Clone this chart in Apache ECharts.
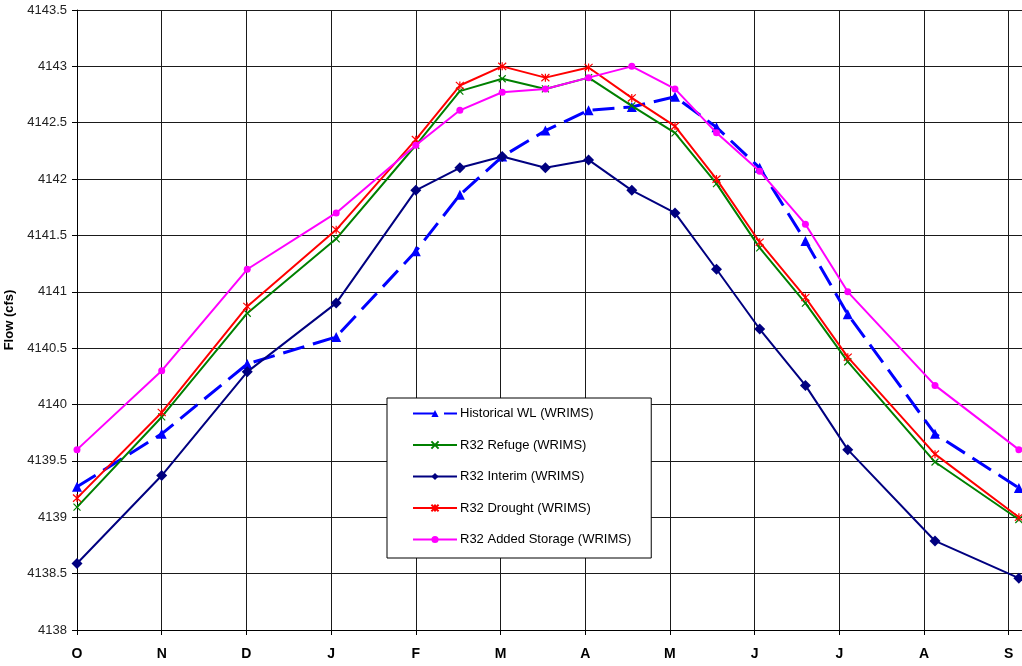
<!DOCTYPE html>
<html>
<head>
<meta charset="utf-8">
<script src="https://cdn.jsdelivr.net/npm/echarts@6/dist/echarts.min.js"></script>
<style>
html,body{margin:0;padding:0;background:#fff;}
#chart{width:1022px;height:666px;}
</style>
</head>
<body>
<div id="chart"></div>
<script>
// Month tick labels (water year, Oct..Sep)
var monthLabels = ['O','N','D','J','F','M','A','M','J','J','A','S'];
// x positions of observations in month units from October
var xPos = [0, 1, 2.01, 3.06, 4.0, 4.52, 5.02, 5.53, 6.04, 6.55, 7.06, 7.55, 8.06, 8.6, 9.1, 10.13, 11.12];
var historical = [4139.27, 4139.74, 4140.36, 4140.6, 4141.36, 4141.86, 4142.2, 4142.43, 4142.61, 4142.64, 4142.73, 4142.46, 4142.1, 4141.45, 4140.8, 4139.74, 4139.26];
var refuge     = [4139.09, 4139.89, 4140.81, 4141.47, 4142.3, 4142.78, 4142.89, 4142.8, 4142.9, 4142.65, 4142.41, 4141.96, 4141.39, 4140.9, 4140.38, 4139.49, 4138.98];
var interim    = [4138.59, 4139.37, 4140.29, 4140.9, 4141.9, 4142.1, 4142.2, 4142.1, 4142.17, 4141.9, 4141.7, 4141.2, 4140.67, 4140.17, 4139.6, 4138.79, 4138.46];
var drought    = [4139.17, 4139.93, 4140.87, 4141.55, 4142.35, 4142.83, 4143.0, 4142.9, 4142.99, 4142.72, 4142.47, 4142.0, 4141.44, 4140.95, 4140.42, 4139.56, 4139.0];
var added      = [4139.6, 4140.3, 4141.2, 4141.7, 4142.3, 4142.61, 4142.77, 4142.8, 4142.9, 4143.0, 4142.8, 4142.41, 4142.07, 4141.6, 4141.0, 4140.17, 4139.6];

function pairs(ys){ return ys.map(function(v,i){ return [xPos[i], v]; }); }

var crossPath = 'path://M0 0 L10 10 M10 0 L0 10';
var starPath = 'path://M5 0 L5 10 M0.5 0.5 L9.5 9.5 M9.5 0.5 L0.5 9.5';

var chart = echarts.init(document.getElementById('chart'), null, {renderer:'canvas'});
chart.setOption({
  animation:false,
  backgroundColor:'#ffffff',
  textStyle:{fontFamily:'Liberation Sans, Arial, sans-serif'},
  grid:{left:77, top:10, width:960, height:620, containLabel:false, outerBoundsMode:'none'},
  xAxis:{
    type:'value', min:0, max:11.334, interval:1,
    axisLine:{show:true, onZero:false, lineStyle:{color:'#000', width:1}},
    axisTick:{show:true, length:5, lineStyle:{color:'#000'}},
    splitLine:{show:true, lineStyle:{color:'#1a1a1a', width:1}},
    axisLabel:{
      margin:17, color:'#000', fontSize:14, fontWeight:'bold',
      fontFamily:'Liberation Sans, Arial, sans-serif',
      showMaxLabel:false,
      formatter:function(v){ var r=Math.round(v); return Math.abs(v-r)<1e-6 && monthLabels[r]!==undefined ? monthLabels[r] : ''; }
    }
  },
  yAxis:{
    type:'value', min:4138, max:4143.5, interval:0.5,
    name:'Flow (cfs)', nameLocation:'middle', nameGap:61, nameRotate:90,
    nameTextStyle:{fontSize:13, fontWeight:'bold', color:'#000', fontFamily:'Liberation Sans, Arial, sans-serif'},
    axisLine:{show:true, lineStyle:{color:'#000', width:1}},
    axisTick:{show:true, length:5, lineStyle:{color:'#000'}},
    splitLine:{show:true, lineStyle:{color:'#1a1a1a', width:1}},
    axisLabel:{margin:10, color:'#222', fontSize:13, fontFamily:'Liberation Sans, Arial, sans-serif',
      formatter:function(v){ return String(Math.round(v*10)/10); }}
  },
  legend:{
    orient:'vertical', left:387, top:398,
    backgroundColor:'#fff', borderColor:'#000', borderWidth:1,
    padding:[9,20,12,25], itemGap:18.5, itemWidth:44, itemHeight:9,
    textStyle:{fontSize:13, color:'#000', fontFamily:'Liberation Sans, Arial, sans-serif', padding:[0,0,0,-2]},
    data:['Historical WL (WRIMS)','R32 Refuge (WRIMS)','R32 Interim (WRIMS)','R32 Drought (WRIMS)','R32 Added Storage (WRIMS)']
  },
  series:[
    {name:'Historical WL (WRIMS)', type:'line', data:pairs(historical),
     symbol:'triangle', symbolSize:10,
     lineStyle:{color:'#0000ff', width:3, type:[22,9]},
     itemStyle:{color:'#0000ff'}, z:2},
    {name:'R32 Refuge (WRIMS)', type:'line', data:pairs(refuge),
     symbol:crossPath, symbolSize:7,
     lineStyle:{color:'#008000', width:2},
     itemStyle:{color:'#008000', borderColor:'#008000', borderWidth:1.2}, z:3},
    {name:'R32 Interim (WRIMS)', type:'line', data:pairs(interim),
     symbol:'diamond', symbolSize:11,
     lineStyle:{color:'#000080', width:2},
     itemStyle:{color:'#000080'}, z:4},
    {name:'R32 Drought (WRIMS)', type:'line', data:pairs(drought),
     symbol:starPath, symbolSize:8,
     lineStyle:{color:'#ff0000', width:2},
     itemStyle:{color:'#ff0000', borderColor:'#ff0000', borderWidth:1.2}, z:5},
    {name:'R32 Added Storage (WRIMS)', type:'line', data:pairs(added),
     symbol:'circle', symbolSize:7,
     lineStyle:{color:'#ff00ff', width:2},
     itemStyle:{color:'#ff00ff'}, z:6}
  ]
});
</script>
</body>
</html>
